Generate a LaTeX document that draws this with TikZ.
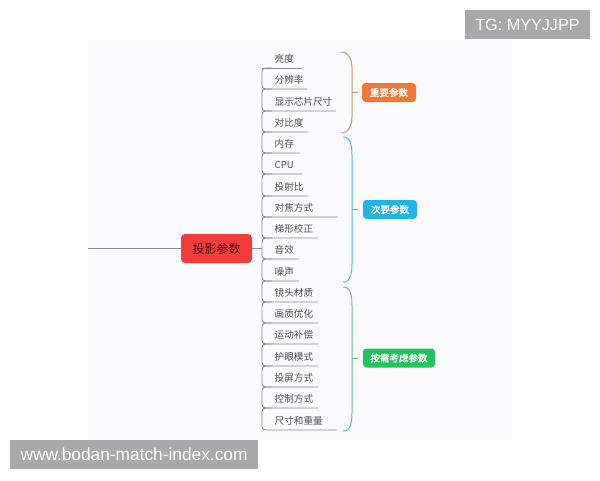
\documentclass[tikz,border=0pt]{standalone}
\usepackage{fontspec}
\newfontfamily\cjk{Noto Sans CJK SC}
\newfontfamily\cjkb[FakeBold=1.3]{Noto Sans CJK SC}
\newfontfamily\wmfont{Liberation Sans}
\definecolor{panel}{HTML}{FBFAFD}
\definecolor{linegray}{HTML}{8C8C8C}
\definecolor{txtgray}{HTML}{505050}
\definecolor{redn}{HTML}{F23B3B}
\definecolor{orangen}{HTML}{EF7A38}
\definecolor{cyann}{HTML}{22B4E4}
\definecolor{greenn}{HTML}{22C45C}
\definecolor{braceA}{HTML}{C49A6C}
\definecolor{braceB}{HTML}{3EC6CE}
\definecolor{braceC}{HTML}{58C68C}
\definecolor{wmgray}{HTML}{A9A9A9}
\tikzset{
  trunk/.style={draw=linegray, line width=0.9pt, rounded corners=3.5pt},
  itemtext/.style={anchor=west, inner sep=0pt, font=\cjk\fontsize{9.6}{10}\selectfont, text=txtgray},
  catbox/.style={rounded corners=3.5pt, inner sep=0pt, text=white, font=\cjkb\fontsize{9.5}{10}\selectfont, minimum height=19pt},
  bracestyle/.style={line width=1pt},
  wmbox/.style={fill=wmgray, inner sep=0pt, text=white, font=\wmfont}
}
\begin{document}
\begin{tikzpicture}[x=1pt,y=-1pt]
\useasboundingbox (0,0) rectangle (600,480);
\fill[white] (0,0) rectangle (600,480);
\fill[panel] (88,40) rectangle (512,440);

% central node
\node[fill=redn, rounded corners=4pt, minimum width=71pt, minimum height=29pt, inner sep=0pt,
      font=\cjk\fontsize{12}{13}\selectfont, text=black!70!redn] (root) at (216.5,248.5) {投影参数};
\coordinate (leftend) at (88,248.5);
\coordinate (trunkjoin) at (262,248.5);
\draw[linegray, line width=0.9pt] (leftend) -- (root.west);
\draw[linegray, line width=0.9pt] (root.east) -- (trunkjoin);

% items
\coordinate (u0) at (262,68);
\draw[trunk] (u0) -- (302,68);
\node[itemtext] (i1) at (274.5,59) {亮度};
\foreach \n/\t/\y/\xe [remember=\y as \yp (initially 68)] in
  {2/分辨率/89/307, 3/显示芯片尺寸/111/336, 4/对比度/132/308, 5/内存/153/300,
   6/CPU/174/302, 7/投射比/196/308, 8/对焦方式/217/338, 9/梯形校正/238/318,
   10/音效/259/299, 11/噪声/281/299, 12/镜头材质/302/318, 13/画质优化/323/318,
   14/运动补偿/344/318, 15/护眼模式/366/318, 16/投屏方式/387/318,
   17/控制方式/408/318, 18/尺寸和重量/430/337}
{
  \draw[trunk] (272,\yp) -| (262,\y) -- (\xe,\y);
  \node[itemtext] (i\n) at (274.5,\y-9) {\t};
}

% braces
\draw[bracestyle, braceA] (341,52) to[out=5,in=90] (352,68) -- (352,117) to[out=-90,in=-5] (341,133);
\draw[bracestyle, braceA] (352,92) -- (358,92);
\draw[bracestyle, braceB] (343,137) to[out=5,in=90] (352,155) -- (352,264) to[out=-90,in=-5] (343,282);
\draw[bracestyle, braceB] (352,209.5) -- (358,209.5);
\draw[bracestyle, braceC] (343,287) to[out=5,in=90] (352,305) -- (352,413) to[out=-90,in=-5] (343,431);
\draw[bracestyle, braceC] (352,358) -- (358,358);

% category nodes
\node[catbox, fill=orangen, minimum width=54pt] (c1) at (389,92.5) {重要参数};
\node[catbox, fill=cyann, minimum width=54pt] (c2) at (390,209.5) {次要参数};
\node[catbox, fill=greenn, minimum width=72pt] (c3) at (399,358) {按需考虑参数};

% watermarks
\node[wmbox, minimum width=125pt, minimum height=29pt, font=\wmfont\fontsize{16.2}{17}\selectfont] (wm1) at (527.5,24.5) {TG: MYYJJPP};
\node[wmbox, minimum width=248pt, minimum height=29pt, font=\wmfont\fontsize{17.3}{18}\selectfont] (wm2) at (134,454.5) {www.bodan-match-index.com};
\end{tikzpicture}
\end{document}
